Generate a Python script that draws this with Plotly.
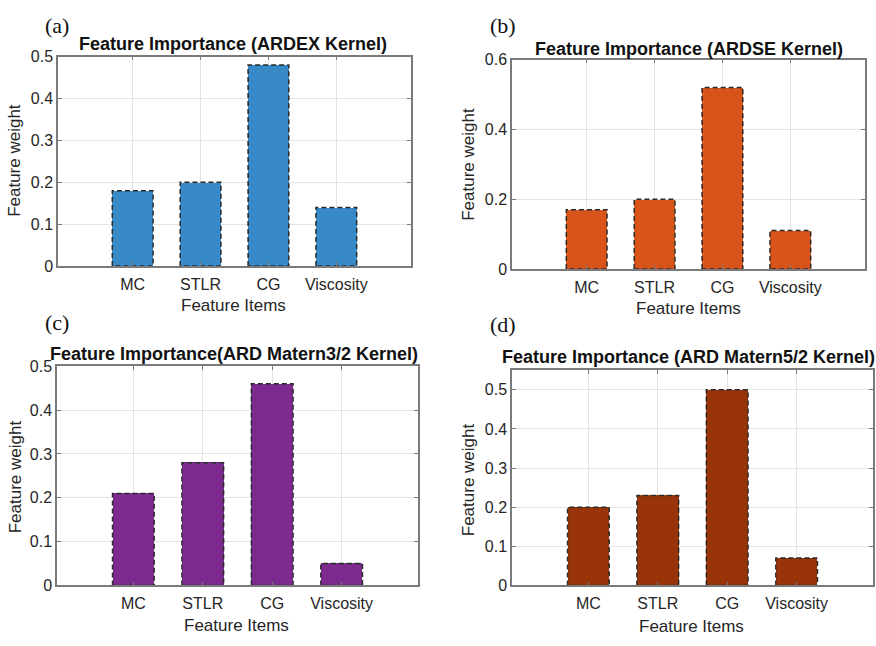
import plotly.graph_objects as go

# ---------------- data ----------------
categories = ["MC", "STLR", "CG", "Viscosity"]
ardex_weights = [0.18, 0.20, 0.48, 0.14]
ardse_weights = [0.17, 0.20, 0.52, 0.11]
matern32_weights = [0.21, 0.28, 0.46, 0.05]
matern52_weights = [0.20, 0.23, 0.50, 0.07]

panel_titles = [
    "Feature Importance (ARDEX Kernel)",
    "Feature Importance (ARDSE Kernel)",
    "Feature Importance(ARD Matern3/2 Kernel)",
    "Feature Importance (ARD Matern5/2 Kernel)",
]
panel_labels = ["(a)", "(b)", "(c)", "(d)"]
y_tick_values = [
    [0, 0.1, 0.2, 0.3, 0.4, 0.5],
    [0, 0.2, 0.4, 0.6],
    [0, 0.1, 0.2, 0.3, 0.4, 0.5],
    [0, 0.1, 0.2, 0.3, 0.4, 0.5],
]
y_tick_text = [
    ["0", "0.1", "0.2", "0.3", "0.4", "0.5"],
    ["0", "0.2", "0.4", "0.6"],
    ["0", "0.1", "0.2", "0.3", "0.4", "0.5"],
    ["0", "0.1", "0.2", "0.3", "0.4", "0.5"],
]
y_limits = [[0, 0.5], [0, 0.6], [0, 0.5], [0, 0.55]]
x_label = "Feature Items"
y_label = "Feature weight"

# ---------------- style ----------------
W, H = 876, 646
bar_colors = ["#3789C7", "#D8541A", "#7C2A8E", "#99340A"]
# pixel boxes of plot areas: (left, top, right, bottom)
boxes = [(58, 50, 411, 265), (512, 53, 865, 268), (57, 368, 418, 593), (512, 372, 873, 593)]
title_pos = [(233, 37), (689, 42), (234, 355), (688, 358)]
xtitle_pos = [(233, 306), (688, 309), (236, 634), (691, 635)]
ytitle_pos = [(15, 157), (469, 160), (15, 482), (468, 485)]
label_pos = [(57, 18), (503, 18), (57, 323), (503, 325)]
bar_width = 0.6
x_positions = [1, 2, 3, 4]
axis_col = "#7a7a7a"
grid_col = "#e3e3e3"
text_col = "#262626"
sans = "Liberation Sans, Arial, sans-serif"
serif = "Liberation Serif, Times New Roman, serif"


def px_x(x):
    return x / W


def px_y(y):
    return 1 - y / H


series = [ardex_weights, ardse_weights, matern32_weights, matern52_weights]
fig = go.Figure()
annotations = []

for i, vals in enumerate(series):
    ax = "" if i == 0 else str(i + 1)
    xref, yref = "x" + ax, "y" + ax
    fig.add_trace(go.Bar(
        x=x_positions, y=vals, width=bar_width,
        marker=dict(color=bar_colors[i], line=dict(width=0)),
        xaxis=xref, yaxis=yref, showlegend=False, hoverinfo="x+y",
    ))
    # dashed bar outlines
    ox, oy = [], []
    for xc, v in zip(x_positions, vals):
        l, r = xc - bar_width / 2, xc + bar_width / 2
        ox += [l, l, r, r, l, None]
        oy += [0, v, v, 0, 0, None]
    fig.add_trace(go.Scatter(
        x=ox, y=oy, mode="lines",
        line=dict(color="#2a2a2a", width=1.5, dash="5px,3px"),
        xaxis=xref, yaxis=yref, showlegend=False, hoverinfo="skip",
    ))
    l, t, r, b = boxes[i]
    common = dict(
        showline=True, linecolor=axis_col, linewidth=1.5, mirror="ticks",
        ticks="inside", ticklen=4, tickcolor=axis_col, tickwidth=1,
        showgrid=True, gridcolor=grid_col, gridwidth=1, zeroline=False,
        tickfont=dict(family=sans, size=16, color=text_col),
        fixedrange=True,
    )
    fig.layout["xaxis" + ax] = dict(
        domain=[px_x(l), px_x(r)], anchor=yref, range=[-0.1, 5.1],
        tickmode="array", tickvals=x_positions, ticktext=categories,
        ticklabelstandoff=3, **common,
    )
    fig.layout["yaxis" + ax] = dict(
        domain=[px_y(b), px_y(t)], anchor=xref, range=y_limits[i],
        tickmode="array", tickvals=y_tick_values[i], ticktext=y_tick_text[i],
        **common,
    )
    annotations.append(dict(
        text="<b>" + panel_titles[i] + "</b>", x=px_x(title_pos[i][0]), y=px_y(title_pos[i][1]),
        xref="paper", yref="paper", xanchor="center", yanchor="middle", showarrow=False,
        font=dict(family=sans, size=18, color="#111111"),
    ))
    annotations.append(dict(
        text=x_label, x=px_x(xtitle_pos[i][0]), y=px_y(xtitle_pos[i][1]),
        xref="paper", yref="paper", xanchor="center", yanchor="middle", showarrow=False,
        font=dict(family=sans, size=17, color=text_col),
    ))
    annotations.append(dict(
        text=y_label, x=px_x(ytitle_pos[i][0]), y=px_y(ytitle_pos[i][1]),
        xref="paper", yref="paper", xanchor="center", yanchor="middle", showarrow=False,
        textangle=-90, font=dict(family=sans, size=17, color=text_col),
    ))
    annotations.append(dict(
        text=panel_labels[i], x=px_x(label_pos[i][0]), y=px_y(label_pos[i][1]),
        xref="paper", yref="paper", xanchor="center", yanchor="middle", showarrow=False,
        font=dict(family=serif, size=22, color="#111111"),
    ))

fig.update_layout(
    width=W, height=H, margin=dict(l=0, r=0, t=0, b=0),
    paper_bgcolor="white", plot_bgcolor="white",
    annotations=annotations, bargap=0,
)
fig.write_html("out.html", include_plotlyjs=True, config={"displayModeBar": False})
